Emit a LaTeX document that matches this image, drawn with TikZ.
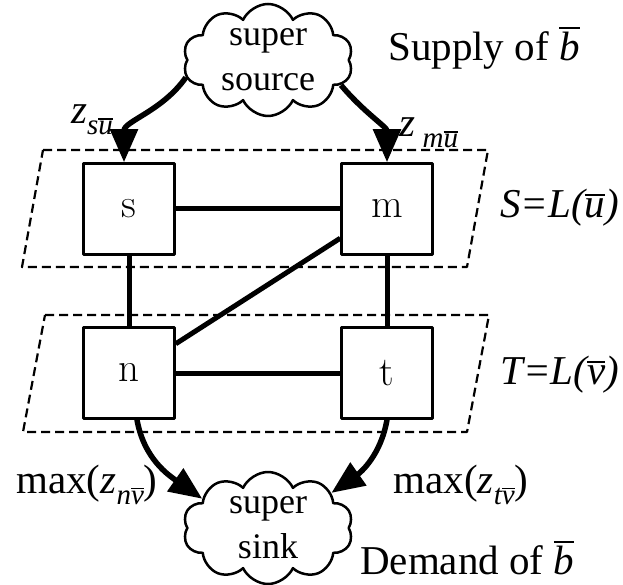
\documentclass[tikz,border=0pt]{standalone}
\usepackage{fontspec}
\setmainfont{Liberation Serif}
\usetikzlibrary{arrows.meta,shapes.symbols}
\newcommand{\obar}[2][0pt]{\setbox0\hbox{#2}\hbox{\rlap{\kern#1\rule[\dimexpr\ht0+0.07em\relax]{\wd0}{0.055em}}\box0}}
\newcommand{\lowsub}[1]{\raisebox{-0.28em}{\fontsize{29}{31}\selectfont\itshape #1}}

\begin{document}
\begin{tikzpicture}[x=1pt,y=1pt,line join=round,
  box/.style={draw,line width=2.5pt,minimum size=91pt,inner sep=0pt,font=\fontsize{41}{44}\fontfamily{lmr}\selectfont},
  cld/.style={cloud,cloud puffs=10,cloud puff arc=130,draw,line width=2.5pt,minimum width=170pt,minimum height=112pt,inner sep=0pt},
  ctxt/.style={align=center,inner sep=0pt,font=\fontsize{36}{45}\selectfont},
  lbl/.style={inner sep=0pt,font=\fontsize{41}{44}\selectfont},
  link/.style={line width=5pt},
  flow/.style={line width=5.5pt,-{Triangle[length=33pt,width=27pt]}},
  layer/.style={line width=2.2pt,dash pattern=on 9pt off 5pt}]
  \useasboundingbox (0,0) rectangle (623,584);
  % the two dashed layers
  \draw[layer] (43,434) -- (488,434) -- (467,317) -- (22,317) -- cycle;
  \draw[layer] (45,269) -- (489,269) -- (467,152) -- (23,152) -- cycle;
  \node[box] (s) at (129,375) {s};
  \node[box] (m) at (387,375) {m};
  \node[box] (n) at (129,211) {n};
  \node[box] (t) at (387,211) {t};
  \node[cld] (src) at (268,524) {};
  \node[ctxt] (srctxt) at (src.center) {super\\source};
  \node[cld] (snk) at (268,56) {};
  \node[ctxt] (snktxt) at (snk.center) {super\\sink};
  % labels
  \node[lbl,anchor=west] (sup) at (388,536) {Supply of \obar{\itshape b}};
  \node[lbl,anchor=west] (dem) at (360,26) {Demand of \obar{\itshape b}};
  \node[lbl,anchor=west] (lu) at (500,376) {\itshape S=L(\obar{u})};
  \node[lbl,anchor=west] (lv) at (500,209) {\itshape T=L(\obar{v})};
  \node[lbl] (zs) at (92,464) {\itshape z\lowsub{s\obar{u}}};
  \node[lbl] (zm) at (429,451) {\itshape z\,\lowsub{m\obar{u}}};
  \node[lbl] (mn) at (87,99) {max(\textit{z}\lowsub{n\obar{v}})};
  \node[lbl] (mt) at (461,99) {max(\textit{z}\lowsub{t\obar{v}})};
  % edges
  \draw[link] (s.east) -- (m.west);
  \draw[link] (s.south) -- (n.north);
  \draw[link] (m.south) -- (t.north);
  \draw[link] (n.east) -- (t.west);
  \draw[link] (m.212) -- (n.32);
  \draw[flow] (src.192) to[out=235,in=90] ([xshift=-5pt]s.north);
  \draw[flow] (src.341) to[out=-50,in=90] (m.north);
  \draw[flow] ([xshift=8pt]n.south) to[out=-80,in=145] (snk.156);
  \draw[flow] (t.south) to[out=-100,in=35] (snk.29);
\end{tikzpicture}
\end{document}
